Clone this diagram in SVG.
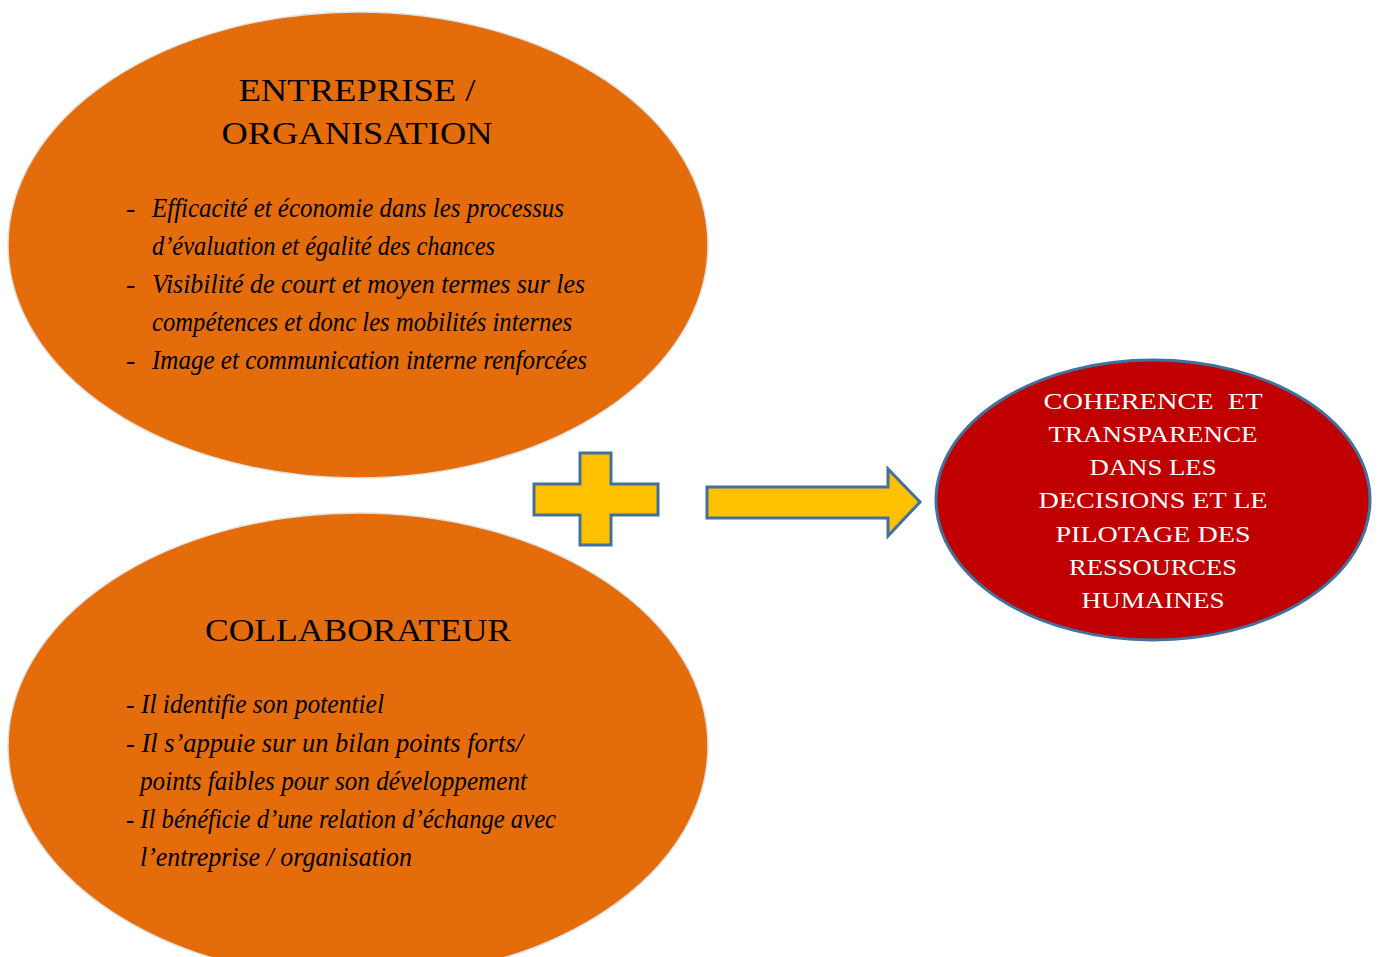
<svg xmlns="http://www.w3.org/2000/svg" width="1378" height="957" viewBox="0 0 1378 957">
<style>
.org{fill:#E46C0A;stroke:#E0E0E0;stroke-width:1.5}
.title{font-family:"Liberation Serif",serif;font-size:31px;fill:#000;text-anchor:middle}
.it{font-family:"Liberation Serif",serif;font-style:italic;font-size:28px;fill:#000}
.res{font-family:"Liberation Serif",serif;font-size:24px;fill:#fff;text-anchor:middle}
.shape{fill:#FFC000;stroke:#41719C;stroke-width:3}
</style>
<rect width="1378" height="957" fill="#fff"/>
<g id="entreprise">
<ellipse class="org" cx="358" cy="245" rx="350" ry="233"/>
<text class="title" x="357" y="101" textLength="237" lengthAdjust="spacingAndGlyphs">ENTREPRISE /</text>
<text class="title" x="357" y="144" textLength="271" lengthAdjust="spacingAndGlyphs">ORGANISATION</text>
<text class="it" x="126" y="217">-</text>
<text class="it" x="152" y="217" textLength="412" lengthAdjust="spacingAndGlyphs">Efficacité et économie dans les processus</text>
<text class="it" x="152" y="255" textLength="343" lengthAdjust="spacingAndGlyphs">d’évaluation et égalité des chances</text>
<text class="it" x="126" y="293">-</text>
<text class="it" x="152" y="293" textLength="433" lengthAdjust="spacingAndGlyphs">Visibilité de court et moyen termes sur les</text>
<text class="it" x="152" y="331" textLength="420" lengthAdjust="spacingAndGlyphs">compétences et donc les mobilités internes</text>
<text class="it" x="126" y="369">-</text>
<text class="it" x="152" y="369" textLength="435" lengthAdjust="spacingAndGlyphs">Image et communication interne renforcées</text>
</g>
<g id="collaborateur">
<ellipse class="org" cx="358" cy="746" rx="350" ry="233"/>
<text class="title" x="358" y="641" textLength="306" lengthAdjust="spacingAndGlyphs">COLLABORATEUR</text>
<text class="it" x="126" y="713" textLength="258" lengthAdjust="spacingAndGlyphs">- Il identifie son potentiel</text>
<text class="it" x="126" y="752" textLength="397" lengthAdjust="spacingAndGlyphs">- Il s’appuie sur un bilan points forts/</text>
<text class="it" x="140" y="790" textLength="387" lengthAdjust="spacingAndGlyphs">points faibles pour son développement</text>
<text class="it" x="126" y="828" textLength="430" lengthAdjust="spacingAndGlyphs">- Il bénéficie d’une relation d’échange avec</text>
<text class="it" x="140" y="866" textLength="272" lengthAdjust="spacingAndGlyphs">l’entreprise / organisation</text>
</g>
<g id="connectors">
<polygon id="plus" class="shape" points="580,453 611,453 611,484 658,484 658,515 611,515 611,545 580,545 580,515 534,515 534,484 580,484"/>
<polygon id="arrow" class="shape" points="707,487 888,487 888,469 920,502 888,536 888,518 707,518"/>
</g>
<g id="resultat">
<ellipse cx="1153" cy="500" rx="217" ry="140" fill="#C00000" stroke="#41719C" stroke-width="3"/>
<text class="res" x="1153" y="409" textLength="219" lengthAdjust="spacingAndGlyphs" xml:space="preserve">COHERENCE  ET</text>
<text class="res" x="1153" y="442" textLength="209" lengthAdjust="spacingAndGlyphs">TRANSPARENCE</text>
<text class="res" x="1153" y="475" textLength="127" lengthAdjust="spacingAndGlyphs">DANS LES</text>
<text class="res" x="1153" y="508" textLength="229" lengthAdjust="spacingAndGlyphs">DECISIONS ET LE</text>
<text class="res" x="1153" y="542" textLength="195" lengthAdjust="spacingAndGlyphs">PILOTAGE DES</text>
<text class="res" x="1153" y="575" textLength="168" lengthAdjust="spacingAndGlyphs">RESSOURCES</text>
<text class="res" x="1153" y="608" textLength="143" lengthAdjust="spacingAndGlyphs">HUMAINES</text>
</g>
</svg>
